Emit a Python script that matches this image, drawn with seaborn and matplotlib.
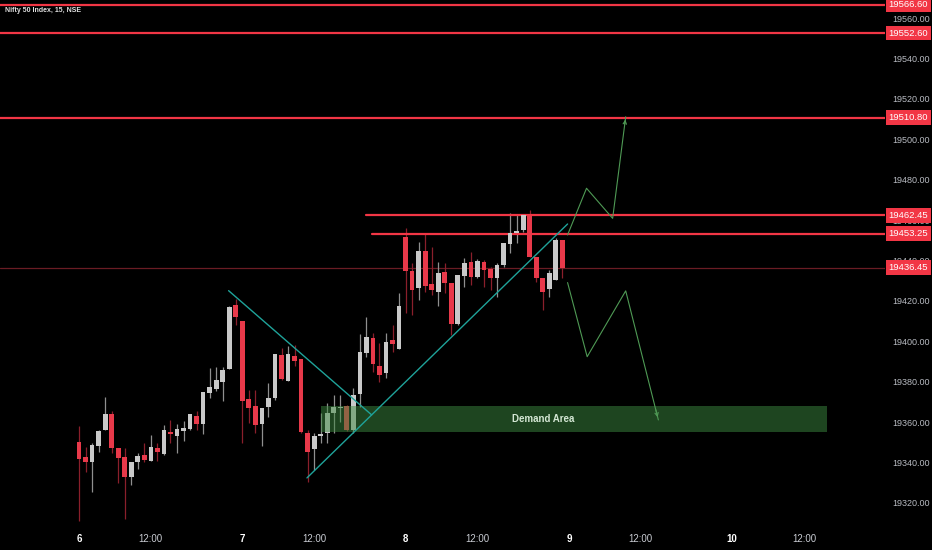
import numpy as np
import pandas as pd
import matplotlib
matplotlib.use("Agg")
import matplotlib.pyplot as plt
import matplotlib.transforms as mtransforms
from matplotlib.patches import Rectangle
import seaborn as sns

# 15 minute candles, Nifty 50, 6 - 8 Sept (25 bars per day)
opens = [19350.0, 19342.6, 19340.4, 19348.4, 19356.1, 19364.1, 19347.1, 19342.9, 19333.0, 19340.4,
         19343.8, 19340.8, 19347.4, 19344.3, 19355.1, 19353.2, 19355.6, 19356.5, 19363.2, 19359.0,
         19374.3, 19376.4, 19379.8, 19386.2, 19418.0,
         19410.2, 19371.5, 19368.2, 19359.0, 19367.4, 19371.8, 19393.3, 19380.5, 19392.9, 19391.3,
         19354.5, 19346.6, 19353.2, 19354.5, 19364.7, 19366.9, 19368.0, 19356.1, 19373.8, 19394.1,
         19401.8, 19388.0, 19384.2, 19400.7, 19396.2,
         19451.5, 19435.0, 19426.3, 19444.8, 19428.4, 19424.6, 19434.5, 19429.1, 19408.6, 19432.4,
         19439.5, 19431.7, 19439.2, 19435.7, 19431.2, 19437.8, 19448.2, 19453.8, 19455.1, 19462.1,
         19441.6, 19431.2, 19425.8, 19430.4, 19450.2]
highs = [19358.3, 19347.9, 19349.5, 19356.1, 19372.6, 19365.7, 19347.1, 19347.1, 19340.4, 19344.9,
         19349.5, 19353.7, 19349.5, 19358.6, 19361.1, 19359.1, 19360.6, 19363.9, 19365.5, 19375.1,
         19386.7, 19387.2, 19387.2, 19417.5, 19420.8,
         19410.2, 19375.9, 19375.9, 19366.9, 19379.6, 19393.8, 19396.6, 19397.7, 19398.2, 19391.3,
         19356.1, 19354.5, 19364.4, 19369.4, 19373.5, 19373.5, 19368.5, 19376.8, 19403.5, 19412.2,
         19404.0, 19399.1, 19404.0, 19408.1, 19423.8,
         19456.0, 19438.7, 19449.4, 19453.5, 19446.9, 19439.5, 19438.7, 19429.1, 19432.9, 19441.1,
         19444.4, 19440.7, 19440.3, 19437.0, 19439.0, 19448.9, 19463.7, 19462.6, 19462.6, 19465.0,
         19441.6, 19431.2, 19435.3, 19451.0, 19450.2]
lows = [19311.2, 19335.5, 19325.6, 19345.1, 19356.1, 19344.6, 19329.8, 19311.9, 19328.9, 19336.8,
        19340.4, 19340.8, 19340.9, 19343.8, 19349.5, 19344.6, 19350.7, 19356.1, 19356.1, 19354.0,
        19371.8, 19375.4, 19370.5, 19386.2, 19408.1,
        19349.5, 19359.5, 19354.5, 19348.4, 19362.7, 19371.0, 19380.9, 19380.5, 19388.0, 19354.5,
        19330.5, 19336.3, 19349.9, 19349.6, 19354.5, 19360.2, 19355.5, 19354.5, 19367.7, 19392.4,
        19385.0, 19380.0, 19381.7, 19394.9, 19396.2,
        19413.9, 19413.1, 19420.5, 19424.6, 19423.0, 19417.5, 19423.8, 19403.2, 19408.1, 19426.8,
        19427.9, 19431.2, 19426.8, 19425.4, 19422.1, 19437.0, 19443.9, 19448.9, 19454.3, 19441.9,
        19429.6, 19415.5, 19421.8, 19430.4, 19431.2]
closes = [19341.8, 19340.1, 19348.7, 19355.8, 19364.1, 19347.1, 19342.4, 19332.7, 19340.4, 19343.4,
          19341.3, 19347.9, 19345.4, 19356.1, 19354.0, 19356.5, 19357.0, 19363.9, 19359.1, 19374.8,
          19377.6, 19380.9, 19385.8, 19417.2, 19412.2,
          19370.6, 19367.2, 19358.6, 19366.9, 19371.8, 19393.8, 19381.4, 19393.8, 19390.4, 19355.3,
          19345.4, 19353.3, 19354.3, 19364.4, 19367.7, 19367.4, 19356.1, 19373.5, 19394.6, 19402.0,
          19388.8, 19383.4, 19399.9, 19398.7, 19417.7,
          19434.9, 19425.4, 19444.8, 19427.6, 19425.4, 19434.0, 19429.1, 19408.6, 19432.9, 19439.0,
          19432.0, 19440.0, 19435.3, 19431.2, 19437.8, 19448.6, 19453.5, 19454.3, 19462.6, 19441.9,
          19431.2, 19424.6, 19434.0, 19450.2, 19436.45]

bars_per_day = 25
day_names = ["6", "7", "8", "9", "10"]

# horizontal resistance levels
levels = [19566.60, 19552.60, 19510.80, 19462.45, 19453.25]
level_from = [None, None, None, 43.9, 44.9]
last_price = 19436.45

# drawings (bar index, price)
down_trend_x = [22.9, 44.8]
down_trend_y = [19425.1, 19363.6]
up_trend_x = [34.9, 74.8]
up_trend_y = [19332.4, 19458.1]
path_up_x = [74.8, 77.7, 81.7, 83.7]
path_up_y = [19452.7, 19475.8, 19460.9, 19511.2]
path_down_x = [74.8, 77.8, 83.7, 88.7]
path_down_y = [19429.1, 19392.4, 19425.0, 19361.1]
demand_x = [37.1, 114.5]
demand_y = [19355.0, 19368.2]

df = pd.DataFrame({"open": opens, "high": highs, "low": lows, "close": closes})
df["idx"] = np.arange(len(df))
df["up"] = df["close"] >= df["open"]

sns.set_theme(style="dark", rc={"axes.facecolor": "black", "figure.facecolor": "black",
                                 "axes.edgecolor": "black"})
plt.rcParams["font.family"] = ["Liberation Sans", "DejaVu Sans"]

RED = "#e8394a"
RED_WICK = "#8a1f2b"
GREY = "#c9c9c9"
GREY_WICK = "#8f8f8f"
LINE_RED = "#f23645"

fig = plt.figure(figsize=(9.32, 5.5), dpi=100)
ax = fig.add_axes([0, 0.04, 885 / 932, 0.96])
ax.grid(False)

# current price line
ax.axhline(last_price, color="#6a1c24", lw=0.9, zorder=1)

# candles
col = np.where(df["up"], GREY, RED)
wcol = np.where(df["up"], GREY_WICK, RED_WICK)
ax.vlines(df["idx"], df["low"], df["high"], colors=wcol, lw=0.9, zorder=2)
body_lo = np.minimum(df["open"], df["close"])
body_h = np.maximum(np.abs(df["close"] - df["open"]), 0.6)
ax.bar(df["idx"], body_h, bottom=body_lo, width=0.72, color=col, edgecolor="none", zorder=3)

# resistance lines
for lv, start in zip(levels, level_from):
    if start is None:
        ax.axhline(lv, color=LINE_RED, lw=1.6, zorder=2)
    else:
        ax.plot([start, 140], [lv, lv], color=LINE_RED, lw=1.6, zorder=2)

# trendlines
teal = "#1fa39a"
sns.lineplot(x=down_trend_x, y=down_trend_y, ax=ax, color=teal, lw=1.0, sort=False,
             estimator=None, zorder=5)
sns.lineplot(x=up_trend_x, y=up_trend_y, ax=ax, color=teal, lw=1.0, sort=False,
             estimator=None, zorder=5)

# demand area
ax.add_patch(Rectangle((demand_x[0], demand_y[0]), demand_x[1] - demand_x[0],
                       demand_y[1] - demand_y[0], facecolor="#3d8b40", alpha=0.5,
                       edgecolor="none", zorder=4))
ax.text(71.0, (demand_y[0] + demand_y[1]) / 2, "Demand Area", color="#d3e6d3",
        fontsize=7, fontweight="bold", ha="center", va="center", zorder=6)

# projected paths
green = "#4f9a55"
for px, py in [(path_up_x, path_up_y), (path_down_x, path_down_y)]:
    sns.lineplot(x=px, y=py, ax=ax, color=green, lw=0.8, sort=False, estimator=None, zorder=5)
    ax.annotate("", xy=(px[-1], py[-1]), xytext=(px[-2] + (px[-1] - px[-2]) * 0.9,
                                                   py[-2] + (py[-1] - py[-2]) * 0.9),
                arrowprops=dict(arrowstyle="->", color=green, lw=0.8, mutation_scale=6),
                zorder=5)

ax.set_xlim(-12.1, 123.4)
ax.set_ylim(19307.6, 19569.0)

# price scale on the right
ax.yaxis.tick_right()
yt = list(range(19320, 19561, 20))
ax.set_yticks(yt)
ax.set_yticklabels([f"{v:.2f}" for v in yt])
ax.tick_params(axis="y", length=0, pad=5, labelsize=6.5, labelcolor="#b8bbc2")

# time scale
xt, xl = [], []
for d, name in enumerate(day_names):
    xt += [d * bars_per_day, d * bars_per_day + 11]
    xl += [name, "12:00"]
ax.set_xticks(xt)
ax.set_xticklabels(xl)
ax.tick_params(axis="x", length=0, pad=4, labelsize=7, labelcolor="#c8cbd2")
for lab in ax.get_xticklabels():
    if lab.get_text() != "12:00":
        lab.set_fontweight("bold")
        lab.set_color("white")

for s in ax.spines.values():
    s.set_visible(False)

# price tags
trans = mtransforms.blended_transform_factory(ax.transAxes, ax.transData)
for lv in levels + [last_price]:
    ax.text(1.004, lv, f"{lv:.2f}", transform=trans, ha="left", va="center", fontsize=6.8,
            color="white", clip_on=False, zorder=10,
            bbox=dict(boxstyle="square,pad=0.3", fc=LINE_RED, ec="none"))

fig.text(5 / 932, 1 - 10 / 550, "Nifty 50 Index, 15, NSE", color="#e0e0e0", fontsize=5,
         fontweight="bold", ha="left", va="center")

fig.savefig("out.png", dpi=100, facecolor="black")
